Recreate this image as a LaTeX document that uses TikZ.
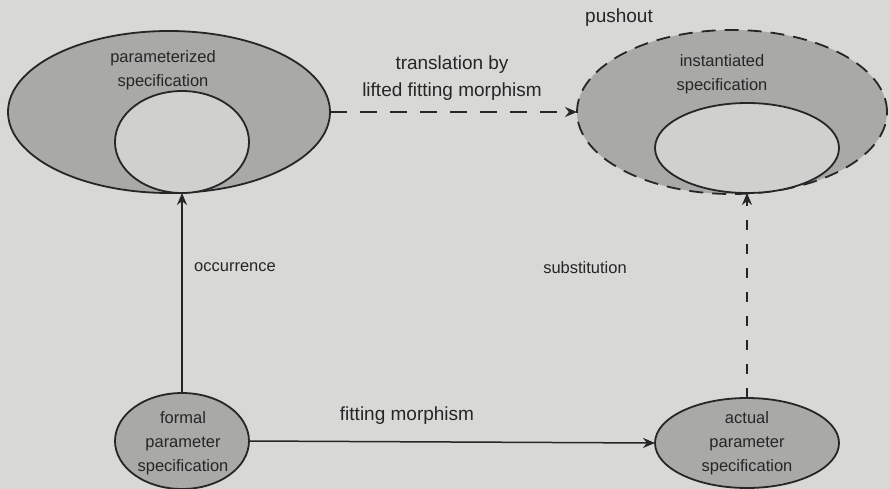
\documentclass[tikz,border=0pt]{standalone}
\usepackage{fontspec}
\setmainfont{Liberation Sans}
\usetikzlibrary{shapes.geometric,arrows.meta}
\definecolor{bg}{HTML}{D8D8D6}
\definecolor{shade}{HTML}{A9A9A7}
\definecolor{inner}{HTML}{D0D0CE}
\definecolor{ink}{HTML}{262626}
\definecolor{txt}{HTML}{262626}
\tikzset{
  spec/.style={ellipse, draw=ink, line width=1.8pt, fill=shade, inner sep=0pt, outer sep=0pt},
  sub/.style={ellipse, draw=ink, line width=1.8pt, fill=inner, inner sep=0pt, outer sep=0pt},
  lbl/.style={text=txt, align=center, inner sep=0pt, font=\fontsize{16.5}{24}\selectfont},
  biglbl/.style={lbl, font=\fontsize{19}{27}\selectfont},
  conn/.style={draw=ink, line width=1.5pt, -{Stealth[length=12pt,width=10pt]}},
  dashconn/.style={conn, dash pattern=on 17pt off 13pt},
  vdash/.style={conn, dash pattern=on 10pt off 14pt}
}
\begin{document}
\begin{tikzpicture}[x=1pt,y=-1pt]
\fill[bg] (0,0) rectangle (890,489);
\useasboundingbox (0,0) rectangle (890,489);
% left big ellipse
\node[spec, minimum width=322pt, minimum height=162pt] (param) at (169,112) {};
\node[sub, minimum width=134pt, minimum height=102pt] (formalin) at (182,142) {};
\node[lbl] (paramtxt) at (163,70) {parameterized\\specification};
% right big ellipse
\node[spec, dash pattern=on 14pt off 9pt, minimum width=310pt, minimum height=164pt] (inst) at (732,112) {};
\node[sub, minimum width=184pt, minimum height=90pt] (actualin) at (747,148) {};
\node[lbl] (insttxt) at (722,74) {instantiated\\specification};
\node[biglbl] (pushout) at (619,18) {pushout};
% bottom ellipses
\node[spec, minimum width=134pt, minimum height=96pt] (formal) at (182,441) {};
\node[lbl] (formaltxt) at (183,443) {formal\\parameter\\specification};
\node[spec, minimum width=184pt, minimum height=90pt] (actual) at (747,443) {};
\node[lbl] (actualtxt) at (747,443) {actual\\parameter\\specification};
% connectors
\draw[dashconn] (param.east) -- (inst.west);
\node[biglbl] (translbl) at (452,78) {translation by\\lifted fitting morphism};
\draw[conn] (formal.north) -- (formalin.south);
\node[lbl] (occ) at (235,267) {occurrence};
\draw[vdash] (actual.north) -- (actualin.south);
\node[lbl] (subst) at (585,268) {substitution};
\draw[conn] (formal.east) -- (actual.west);
\node[biglbl] (fitlbl) at (407,416) {fitting morphism};
\end{tikzpicture}
\end{document}
